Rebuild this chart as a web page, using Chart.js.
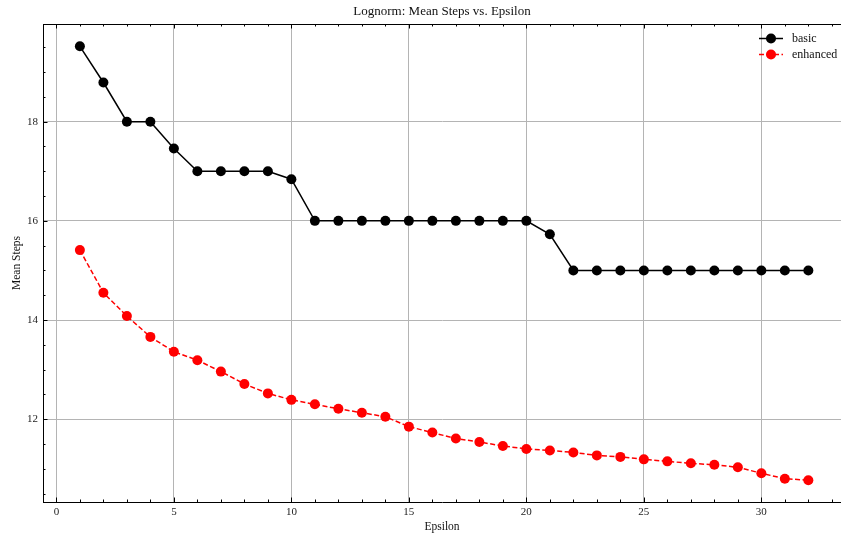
<!DOCTYPE html>
<html lang="en">
  <head>
    <meta charset="UTF-8" />
    <title>Lognorm: Mean Steps vs. Epsilon</title>
    <style>
      html, body { margin: 0; padding: 0; background: #fff; }
      #wrap { width: 841px; height: 537px; }
    </style>
  </head>
  <body>
    <div id="wrap"><canvas id="lineChartCanvas" width="841" height="537"></canvas></div>

    <script src="https://cdn.jsdelivr.net/npm/chart.js@4.4.1/dist/chart.umd.min.js"></script>
    <script>
        const epsilon = [1, 2, 3, 4, 5, 6, 7, 8, 9, 10, 11, 12, 13, 14, 15, 16,
                         17, 18, 19, 20, 21, 22, 23, 24, 25, 26, 27, 28, 29, 30, 31, 32];
        const basicSteps = [19.52, 18.79, 18, 18, 17.46, 17, 17, 17, 17, 16.84,
                            16, 16, 16, 16, 16, 16, 16, 16, 16, 16, 15.73,
                            15, 15, 15, 15, 15, 15, 15, 15, 15, 15, 15];
        const enhancedSteps = [15.41, 14.55, 14.08, 13.66, 13.36, 13.19, 12.96, 12.71, 12.52, 12.39,
                               12.30, 12.21, 12.13, 12.05, 11.85, 11.73, 11.61, 11.54, 11.46, 11.40,
                               11.37, 11.33, 11.27, 11.24, 11.19, 11.15, 11.11, 11.08, 11.03, 10.91,
                               10.80, 10.77];
        const xTickValues = [0, 5, 10, 15, 20, 25, 30];
        const yTickValues = [12, 14, 16, 18];

        const serif = "'Liberation Serif', 'DejaVu Serif', serif";
        Chart.defaults.font.family = serif;
        Chart.defaults.font.size = 11;
        Chart.defaults.color = '#222';

        // inward ticks on the frame, top border, title and legend (matplotlib look)
        const framePlugin = {
            id: 'frame',
            afterDraw(chart) {
                const ctx = chart.ctx;
                const a = chart.chartArea;
                const xs = chart.scales.x, ys = chart.scales.y;
                ctx.save();
                ctx.strokeStyle = '#000';
                ctx.lineWidth = 1;
                ctx.beginPath();
                ctx.moveTo(a.left, a.top + 0.5);
                ctx.lineTo(a.right, a.top + 0.5);
                for (let v = 0; v <= 33; v++) {
                    const px = Math.round(xs.getPixelForValue(v)) + 0.5;
                    const len = v % 5 === 0 ? 4.5 : 2.5;
                    ctx.moveTo(px, a.bottom); ctx.lineTo(px, a.bottom - len);
                    ctx.moveTo(px, a.top); ctx.lineTo(px, a.top + len);
                }
                for (let v = 10.5; v <= 19.5; v += 0.5) {
                    const py = Math.round(ys.getPixelForValue(v)) + 0.5;
                    const len = v % 2 === 0 ? 4.5 : 2.5;
                    ctx.moveTo(a.left, py); ctx.lineTo(a.left + len, py);
                }
                ctx.stroke();

                ctx.fillStyle = '#111';
                ctx.font = '13px ' + serif;
                ctx.textAlign = 'center';
                ctx.textBaseline = 'middle';
                ctx.fillText('Lognorm: Mean Steps vs. Epsilon', (a.left + a.right) / 2, 11.5);

                ctx.font = '12px ' + serif;
                ctx.textAlign = 'left';
                chart.data.datasets.forEach(function (ds, i) {
                    const y = 38.5 + i * 16;
                    ctx.strokeStyle = ds.borderColor;
                    ctx.lineWidth = 1.5;
                    ctx.setLineDash(ds.borderDash || []);
                    ctx.beginPath();
                    ctx.moveTo(759, y); ctx.lineTo(783, y);
                    ctx.stroke();
                    ctx.setLineDash([]);
                    ctx.fillStyle = ds.pointBackgroundColor;
                    ctx.beginPath();
                    ctx.arc(771, y, 5, 0, Math.PI * 2);
                    ctx.fill();
                    ctx.fillStyle = '#111';
                    ctx.fillText(ds.label, 792, y + 0.5);
                });
                ctx.restore();
            }
        };

        let lineChartDraw = function () {
            let ctx = document.getElementById('lineChartCanvas').getContext('2d');

            window.lineChart = new Chart(ctx, {
                type: 'line',
                data: {
                    datasets: [{
                        label: 'basic',
                        data: epsilon.map((e, i) => ({ x: e, y: basicSteps[i] })),
                        borderColor: '#000',
                        pointBackgroundColor: '#000',
                        borderWidth: 1.5,
                        pointRadius: 5,
                        pointBorderWidth: 0,
                        tension: 0
                    }, {
                        label: 'enhanced',
                        data: epsilon.map((e, i) => ({ x: e, y: enhancedSteps[i] })),
                        borderColor: '#ff0000',
                        pointBackgroundColor: '#ff0000',
                        borderWidth: 1.5,
                        borderDash: [5, 2.5],
                        pointRadius: 5,
                        pointBorderWidth: 0,
                        tension: 0
                    }]
                },
                options: {
                    responsive: false,
                    animation: false,
                    layout: { autoPadding: false, padding: { top: 24, right: 0, left: 0, bottom: 0 } },
                    plugins: {
                        legend: { display: false },
                        title: { display: false },
                        tooltip: { enabled: false }
                    },
                    scales: {
                        x: {
                            type: 'linear',
                            min: -0.57,
                            max: 33.39,
                            afterBuildTicks: s => { s.ticks = xTickValues.map(v => ({ value: v })); },
                            afterFit: s => { s.height = 35; },
                            grid: { color: '#b4b4b4', lineWidth: 1, drawTicks: false },
                            border: { color: '#000', width: 1 },
                            ticks: { padding: 4, color: '#222' },
                            title: { display: true, text: 'Epsilon', font: { size: 11.5 }, padding: { top: 0, bottom: 3 }, color: '#111' }
                        },
                        y: {
                            min: 10.33,
                            max: 19.97,
                            afterBuildTicks: s => { s.ticks = yTickValues.map(v => ({ value: v })); },
                            afterFit: s => { s.width = 43; },
                            grid: { color: '#b4b4b4', lineWidth: 1, drawTicks: false },
                            border: { color: '#000', width: 1 },
                            ticks: { padding: 5, color: '#222' },
                            title: { display: true, text: 'Mean Steps', font: { size: 11.5 }, padding: { top: 10, bottom: 0 }, color: '#111' }
                        }
                    }
                },
                plugins: [framePlugin]
            });
        };

        window.onload = function () {
            lineChartDraw();
        };
    </script>
  </body>
</html>
